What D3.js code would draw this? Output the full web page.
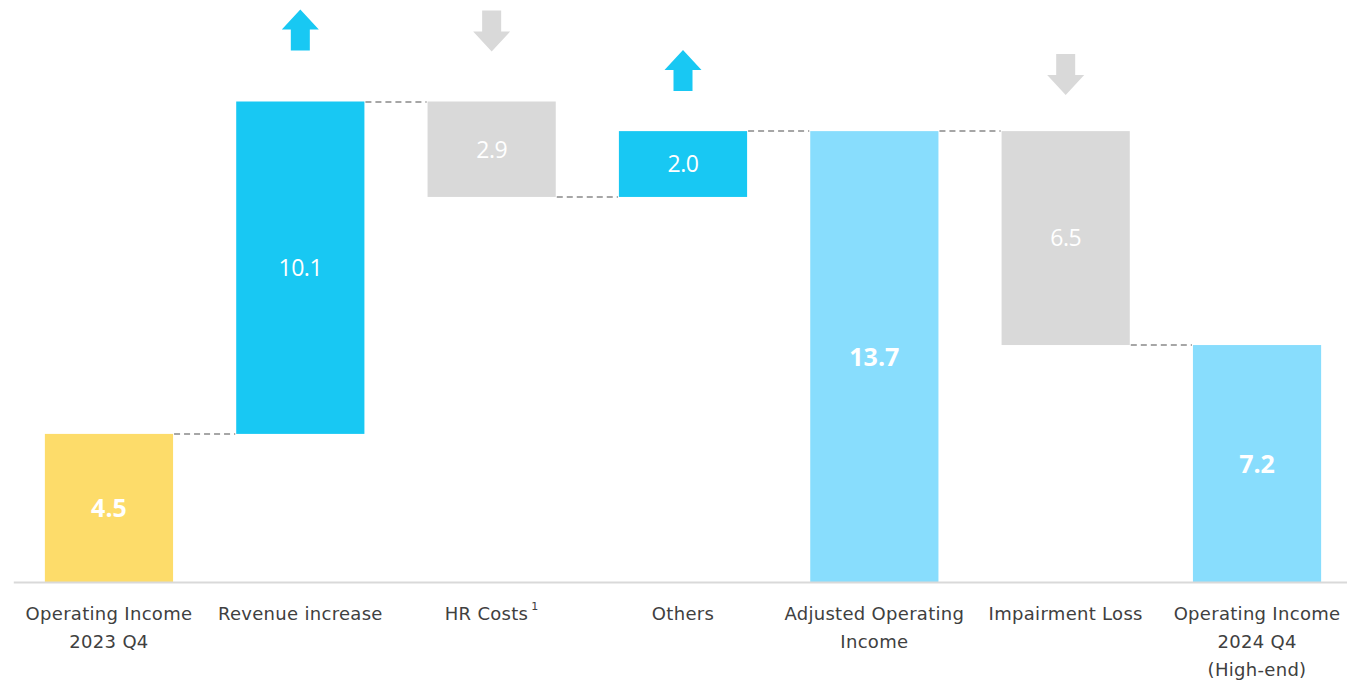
<!DOCTYPE html>
<html>
<head>
<meta charset="utf-8">
<script src="https://cdn.jsdelivr.net/npm/d3@7"></script>
<style>
  html, body { margin: 0; padding: 0; background: #fff; }
  svg { display: block; font-family: "Open Sans", sans-serif; }
</style>
</head>
<body>
<svg id="chart" width="1347" height="680"></svg>
<script>
// Operating income bridge, 2023 Q4 -> 2024 Q4
const categories = ["Operating Income 2023 Q4", "Revenue increase", "HR Costs", "Others",
                    "Adjusted Operating Income", "Impairment Loss", "Operating Income 2024 Q4 (High-end)"];
const categoryLines = [["Operating Income", "2023 Q4"], ["Revenue increase"], ["HR Costs"], ["Others"],
                       ["Adjusted Operating", "Income"], ["Impairment Loss"], ["Operating Income", "2024 Q4", "(High-end)"]];
const footnotes = ["", "", "1", "", "", "", ""];
const values = [4.5, 10.1, -2.9, 2.0, 13.7, -6.5, 7.2];
const kinds = ["total", "delta", "delta", "delta", "total", "delta", "total"];
const valueLabels = ["4.5", "10.1", "2.9", "2.0", "13.7", "6.5", "7.2"];

const svg = d3.select("#chart");

// running totals -> [start, end] for each bar
let running = 0;
const bars = values.map((v, i) => {
  let start, end;
  if (kinds[i] === "total") { start = 0; end = v; running = v; }
  else { start = running; end = running + v; running = end; }
  return { cat: categories[i], i, v, kind: kinds[i], lo: Math.min(start, end), hi: Math.max(start, end), end };
});

const x = d3.scaleBand().domain(categories).range([13.3, 1352.7]).paddingInner(0.33).paddingOuter(0.165);
const y = d3.scaleLinear().domain([0, 14.6]).range([582, 101.5]);

const color = (d, i) => {
  if (d.kind === "total") return i === 0 ? "#FDDC6A" : "#88DDFD";
  return d.v >= 0 ? "#18C8F3" : "#D9D9D9";
};

// connectors between consecutive bars
const conn = svg.append("g");
bars.slice(0, -1).forEach((d, i) => {
  const yy = Math.round(y(d.end));
  conn.append("line")
    .attr("x1", x(d.cat) + x.bandwidth() + 1)
    .attr("x2", x(bars[i + 1].cat) - 1)
    .attr("y1", yy).attr("y2", yy)
    .attr("stroke", "#A6A6A6").attr("stroke-width", 2)
    .attr("stroke-dasharray", "6,4");
});

// bars
svg.append("g").selectAll("rect").data(bars).join("rect")
  .attr("x", d => x(d.cat))
  .attr("width", x.bandwidth())
  .attr("y", d => y(d.hi))
  .attr("height", d => y(d.lo) - y(d.hi))
  .attr("fill", (d, i) => color(d, i));

// value labels
svg.append("g").selectAll("text").data(bars).join("text")
  .attr("x", d => x(d.cat) + x.bandwidth() / 2)
  .attr("y", d => (y(d.lo) + y(d.hi)) / 2)
  .attr("dy", "0.36em")
  .attr("text-anchor", "middle")
  .attr("fill", "#fff")
  .attr("font-size", d => d.kind === "total" ? 25 : 23)
  .attr("font-weight", d => d.kind === "total" ? 700 : 400)
  .attr("letter-spacing", d => d.kind === "total" ? 0 : -0.5)
  .text((d, i) => valueLabels[i]);

// direction arrows above the change bars
const arrowGap = { 1: 51, 2: 50, 3: 40, 5: 36 };
const arrowPath = (up) => up
  ? "M0,0 L18.5,20 L9.5,20 L9.5,41 L-9.5,41 L-9.5,20 L-18.5,20 Z"
  : "M-9.5,0 L9.5,0 L9.5,21 L18.5,21 L0,41 L-18.5,21 L-9.5,21 Z";
const arrows = bars.filter(d => d.kind === "delta");
svg.append("g").selectAll("path").data(arrows).join("path")
  .attr("transform", d => `translate(${x(d.cat) + x.bandwidth() / 2},${y(d.hi) - arrowGap[d.i] - 41})`)
  .attr("d", d => arrowPath(d.v >= 0))
  .attr("fill", d => d.v >= 0 ? "#18C8F3" : "#D9D9D9");

// category axis
const axis = svg.append("g").attr("transform", "translate(0,582)")
  .call(d3.axisBottom(x).tickSize(0).tickFormat(""));
axis.select(".domain").attr("stroke", "#D9D9D9").attr("stroke-width", 2);

const tickG = axis.selectAll(".tick");
tickG.select("text").remove();
tickG.each(function (c, i) {
  const t = d3.select(this).append("text")
    .attr("text-anchor", "middle")
    .attr("fill", "#404040")
    .attr("font-family", "'DejaVu Sans', sans-serif")
    .attr("font-size", 18)
    .attr("letter-spacing", 0.3)
    .attr("y", 38);
  categoryLines[i].forEach((ln, k) => {
    t.append("tspan").attr("x", 0).attr("dy", k === 0 ? 0 : 28).text(ln);
  });
  if (footnotes[i]) {
    t.select("tspan").append("tspan").attr("font-size", 11).attr("dy", -10).attr("dx", 3).text(footnotes[i]);
  }
});
</script>
</body>
</html>
